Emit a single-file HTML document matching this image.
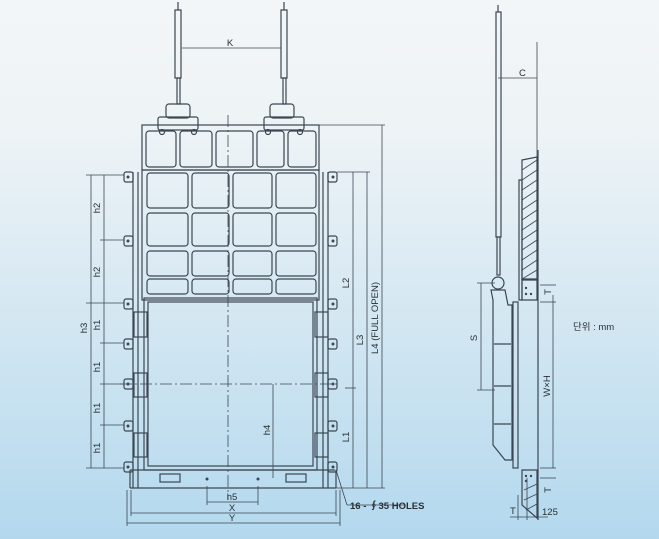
<!DOCTYPE html>
<html><head><meta charset="utf-8"><style>
html,body{margin:0;padding:0;}
body{width:659px;height:539px;overflow:hidden;background:linear-gradient(#f3f6f8 0%,#edf3f6 25%,#d3e7f2 60%,#b3d8ee 100%);}
svg{display:block}
text{font-family:"Liberation Sans","Noto Sans CJK KR",sans-serif;fill:#2a2f35;font-size:9.5px}
</style></head><body>
<svg width="659" height="539" viewBox="0 0 659 539" xmlns="http://www.w3.org/2000/svg">
<g fill="none" stroke="#3c4752" stroke-width="1.2">
<rect x="175" y="10" width="6" height="68"/><rect x="177" y="78" width="3" height="26"/>
<rect x="281" y="10" width="6" height="68"/><rect x="283" y="78" width="3" height="26"/>
<line x1="178" y1="2" x2="178" y2="10"/><line x1="284" y1="2" x2="284" y2="10"/>
<line x1="182" y1="48" x2="281" y2="48" stroke-width="0.8"/>
<rect x="166" y="104" width="24" height="14" rx="3"/><rect x="158" y="117" width="40" height="13" rx="2"/>
<rect x="270" y="104" width="24" height="14" rx="3"/><rect x="264" y="117" width="40" height="13" rx="2"/>
<circle cx="162" cy="132" r="2.5"/><circle cx="194" cy="132" r="2.5"/><circle cx="268" cy="132" r="2.5"/><circle cx="300" cy="132" r="2.5"/>
<rect x="142" y="125" width="177" height="45"/>
<rect x="146" y="131" width="30" height="36" rx="3"/><rect x="180" y="131" width="32" height="36" rx="3"/><rect x="216" y="131" width="37" height="36" rx="3"/><rect x="257" y="131" width="27" height="36" rx="3"/><rect x="288" y="131" width="28" height="36" rx="3"/>
<rect x="142" y="170" width="177" height="130"/>
<g>
<rect x="147" y="173" width="41" height="35" rx="3"/><rect x="192" y="173" width="37" height="35" rx="3"/><rect x="233" y="173" width="39" height="35" rx="3"/><rect x="276" y="173" width="40" height="35" rx="3"/>
<rect x="147" y="213" width="41" height="33" rx="3"/><rect x="192" y="213" width="37" height="33" rx="3"/><rect x="233" y="213" width="39" height="33" rx="3"/><rect x="276" y="213" width="40" height="33" rx="3"/>
<rect x="147" y="251" width="41" height="25" rx="3"/><rect x="192" y="251" width="37" height="25" rx="3"/><rect x="233" y="251" width="39" height="25" rx="3"/><rect x="276" y="251" width="40" height="25" rx="3"/>
<rect x="147" y="279" width="41" height="15" rx="3"/><rect x="192" y="279" width="37" height="15" rx="3"/><rect x="233" y="279" width="39" height="15" rx="3"/><rect x="276" y="279" width="40" height="15" rx="3"/>
</g>
<rect x="144" y="298" width="173" height="172"/>
<rect x="148" y="302" width="165" height="164"/>
<line x1="228" y1="115" x2="228" y2="500" stroke-dasharray="12,3,2,3" stroke-width="0.8"/>
<line x1="120" y1="384" x2="340" y2="384" stroke-dasharray="12,3,2,3" stroke-width="0.8"/>
<line x1="133" y1="172" x2="133" y2="488"/><line x1="138" y1="172" x2="138" y2="488"/>
<line x1="323" y1="172" x2="323" y2="488"/><line x1="328" y1="172" x2="328" y2="488"/>
<g>
<rect x="124" y="172" width="9" height="10" rx="2"/><rect x="124" y="236" width="9" height="10" rx="2"/><rect x="124" y="299" width="9" height="10" rx="2"/><rect x="124" y="339" width="9" height="10" rx="2"/><rect x="124" y="379" width="9" height="10" rx="2"/><rect x="124" y="421" width="9" height="10" rx="2"/><rect x="124" y="462" width="9" height="10" rx="2"/>
<rect x="328" y="172" width="9" height="10" rx="2"/><rect x="328" y="236" width="9" height="10" rx="2"/><rect x="328" y="299" width="9" height="10" rx="2"/><rect x="328" y="339" width="9" height="10" rx="2"/><rect x="328" y="379" width="9" height="10" rx="2"/><rect x="328" y="421" width="9" height="10" rx="2"/><rect x="328" y="462" width="9" height="10" rx="2"/>
<rect x="134" y="312" width="13" height="25"/><rect x="134" y="373" width="13" height="24"/><rect x="134" y="433" width="13" height="24"/>
<rect x="315" y="312" width="13" height="25"/><rect x="315" y="373" width="13" height="24"/><rect x="315" y="433" width="13" height="24"/>
</g>
<line x1="130" y1="470" x2="335" y2="470"/><line x1="130" y1="488" x2="336" y2="488"/>
<line x1="130" y1="470" x2="130" y2="488"/><line x1="336" y1="470" x2="336" y2="488"/>
<rect x="160" y="474" width="20" height="8"/><rect x="286" y="474" width="20" height="8"/>
<g stroke-width="0.8">
<line x1="207" y1="486" x2="207" y2="505"/><line x1="258" y1="486" x2="258" y2="505"/><line x1="207" y1="502" x2="258" y2="502"/>
<line x1="131" y1="490" x2="131" y2="516"/><line x1="336" y1="490" x2="336" y2="516"/><line x1="131" y1="513" x2="336" y2="513"/>
<line x1="127" y1="490" x2="127" y2="526"/><line x1="340" y1="490" x2="340" y2="526"/><line x1="127" y1="523" x2="340" y2="523"/>
<line x1="273" y1="384" x2="273" y2="478"/>
<line x1="336" y1="470" x2="347" y2="505"/><line x1="347" y1="505" x2="405" y2="505"/>
<line x1="91" y1="175" x2="91" y2="468"/><line x1="104" y1="175" x2="104" y2="468"/>
<line x1="86" y1="175" x2="124" y2="175"/><line x1="100" y1="240" x2="124" y2="240"/><line x1="86" y1="303" x2="124" y2="303"/><line x1="100" y1="343" x2="124" y2="343"/><line x1="100" y1="384" x2="124" y2="384"/><line x1="100" y1="425" x2="124" y2="425"/><line x1="86" y1="468" x2="124" y2="468"/>
<line x1="353" y1="172" x2="353" y2="488"/><line x1="367" y1="172" x2="367" y2="488"/><line x1="382" y1="125" x2="382" y2="488"/>
<line x1="319" y1="125" x2="385" y2="125"/><line x1="337" y1="172" x2="370" y2="172"/><line x1="336" y1="488" x2="385" y2="488"/><line x1="345" y1="388" x2="356" y2="388"/>
<line x1="498" y1="78" x2="537" y2="78"/><line x1="537" y1="42" x2="537" y2="160"/>
<line x1="481" y1="283" x2="481" y2="390"/><line x1="477" y1="283" x2="495" y2="283"/><line x1="477" y1="390" x2="495" y2="390"/>
<line x1="553" y1="295" x2="553" y2="468"/><line x1="540" y1="285" x2="556" y2="285"/><line x1="540" y1="302" x2="556" y2="302"/><line x1="540" y1="468" x2="556" y2="468"/><line x1="540" y1="478" x2="556" y2="478"/>
<line x1="510" y1="517" x2="548" y2="517"/><line x1="518" y1="495" x2="518" y2="520"/><line x1="527" y1="478" x2="527" y2="520"/><line x1="538" y1="478" x2="538" y2="520"/>
</g>
<rect x="496" y="12" width="5" height="225"/><rect x="497" y="237" width="3" height="38"/>
<line x1="498" y1="5" x2="498" y2="12"/>
<circle cx="498" cy="283" r="6"/>
<path d="M491 290 L505 290 L508 305 L512 305 L512 460 L505 460 L493 445 L493 300 Z"/>
<line x1="494" y1="344" x2="511" y2="344"/><line x1="494" y1="386" x2="511" y2="386"/><line x1="494" y1="424" x2="511" y2="424"/>
<rect x="513" y="302" width="5" height="166"/>
<path d="M522 160 L537 157 L537 279 L522 279 Z"/>
<path d="M519 180 L522 180 L522 300 L519 300 Z"/>
<path d="M522 280 L537 280 L537 300 L522 300 Z"/>
<path d="M522 470 L537 470 L537 518 L522 505 Z"/>
<line x1="538" y1="150" x2="538" y2="520"/>
</g>
<g stroke="#3c4752" stroke-width="0.8">
<line x1="522" y1="170" x2="537" y2="160"/><line x1="522" y1="180" x2="537" y2="170"/><line x1="522" y1="190" x2="537" y2="180"/><line x1="522" y1="200" x2="537" y2="190"/><line x1="522" y1="210" x2="537" y2="200"/><line x1="522" y1="220" x2="537" y2="210"/><line x1="522" y1="230" x2="537" y2="220"/><line x1="522" y1="240" x2="537" y2="230"/><line x1="522" y1="250" x2="537" y2="240"/><line x1="522" y1="260" x2="537" y2="250"/><line x1="522" y1="270" x2="537" y2="260"/><line x1="522" y1="279" x2="537" y2="270"/>
<line x1="524" y1="490" x2="537" y2="484"/><line x1="524" y1="500" x2="537" y2="494"/><line x1="526" y1="510" x2="537" y2="504"/>
</g>
<g fill="#3c4752">
<circle cx="128" cy="177" r="1.5"/><circle cx="128" cy="241" r="1.5"/><circle cx="128" cy="304" r="1.5"/><circle cx="128" cy="344" r="1.5"/><circle cx="128" cy="384" r="1.5"/><circle cx="128" cy="426" r="1.5"/><circle cx="128" cy="467" r="1.5"/>
<circle cx="333" cy="177" r="1.5"/><circle cx="333" cy="241" r="1.5"/><circle cx="333" cy="304" r="1.5"/><circle cx="333" cy="344" r="1.5"/><circle cx="333" cy="384" r="1.5"/><circle cx="333" cy="426" r="1.5"/><circle cx="333" cy="467" r="1.5"/>
<circle cx="207" cy="479" r="1.5"/><circle cx="258" cy="479" r="1.5"/>
<circle cx="526" cy="288" r="1.2"/><circle cx="526" cy="294" r="1.2"/><circle cx="531" cy="294" r="1.2"/><circle cx="526" cy="476" r="1.2"/><circle cx="531" cy="476" r="1.2"/><circle cx="526" cy="481" r="1.2"/>
</g>
<text x="230" y="46" text-anchor="middle">K</text>
<text x="519" y="76">C</text>
<text x="232" y="500" text-anchor="middle">h5</text>
<text x="232" y="511" text-anchor="middle">X</text>
<text x="232" y="521" text-anchor="middle">Y</text>
<text x="350" y="509" font-weight="bold" font-size="9">16 - ∮35 HOLES</text>
<text transform="translate(87 328) rotate(-90)" text-anchor="middle">h3</text>
<text transform="translate(100 208) rotate(-90)" text-anchor="middle">h2</text>
<text transform="translate(100 272) rotate(-90)" text-anchor="middle">h2</text>
<text transform="translate(100 325) rotate(-90)" text-anchor="middle">h1</text>
<text transform="translate(100 367) rotate(-90)" text-anchor="middle">h1</text>
<text transform="translate(100 408) rotate(-90)" text-anchor="middle">h1</text>
<text transform="translate(100 448) rotate(-90)" text-anchor="middle">h1</text>
<text transform="translate(270 430) rotate(-90)" text-anchor="middle">h4</text>
<text transform="translate(349 283) rotate(-90)" text-anchor="middle">L2</text>
<text transform="translate(363 340) rotate(-90)" text-anchor="middle">L3</text>
<text transform="translate(378 318) rotate(-90)" text-anchor="middle">L4 (FULL OPEN)</text>
<text transform="translate(349 437) rotate(-90)" text-anchor="middle">L1</text>
<text transform="translate(477 338) rotate(-90)" text-anchor="middle">S</text>
<text transform="translate(550 386) rotate(-90)" text-anchor="middle">W×H</text>
<text transform="translate(551 292) rotate(-90)" text-anchor="middle">T</text>
<text transform="translate(551 490) rotate(-90)" text-anchor="middle">T</text>
<text x="510" y="514">T</text>
<text x="542" y="515">125</text>
<text x="573" y="330" font-size="10" fill="#555">단위 : mm</text>
</svg>
</body></html>
